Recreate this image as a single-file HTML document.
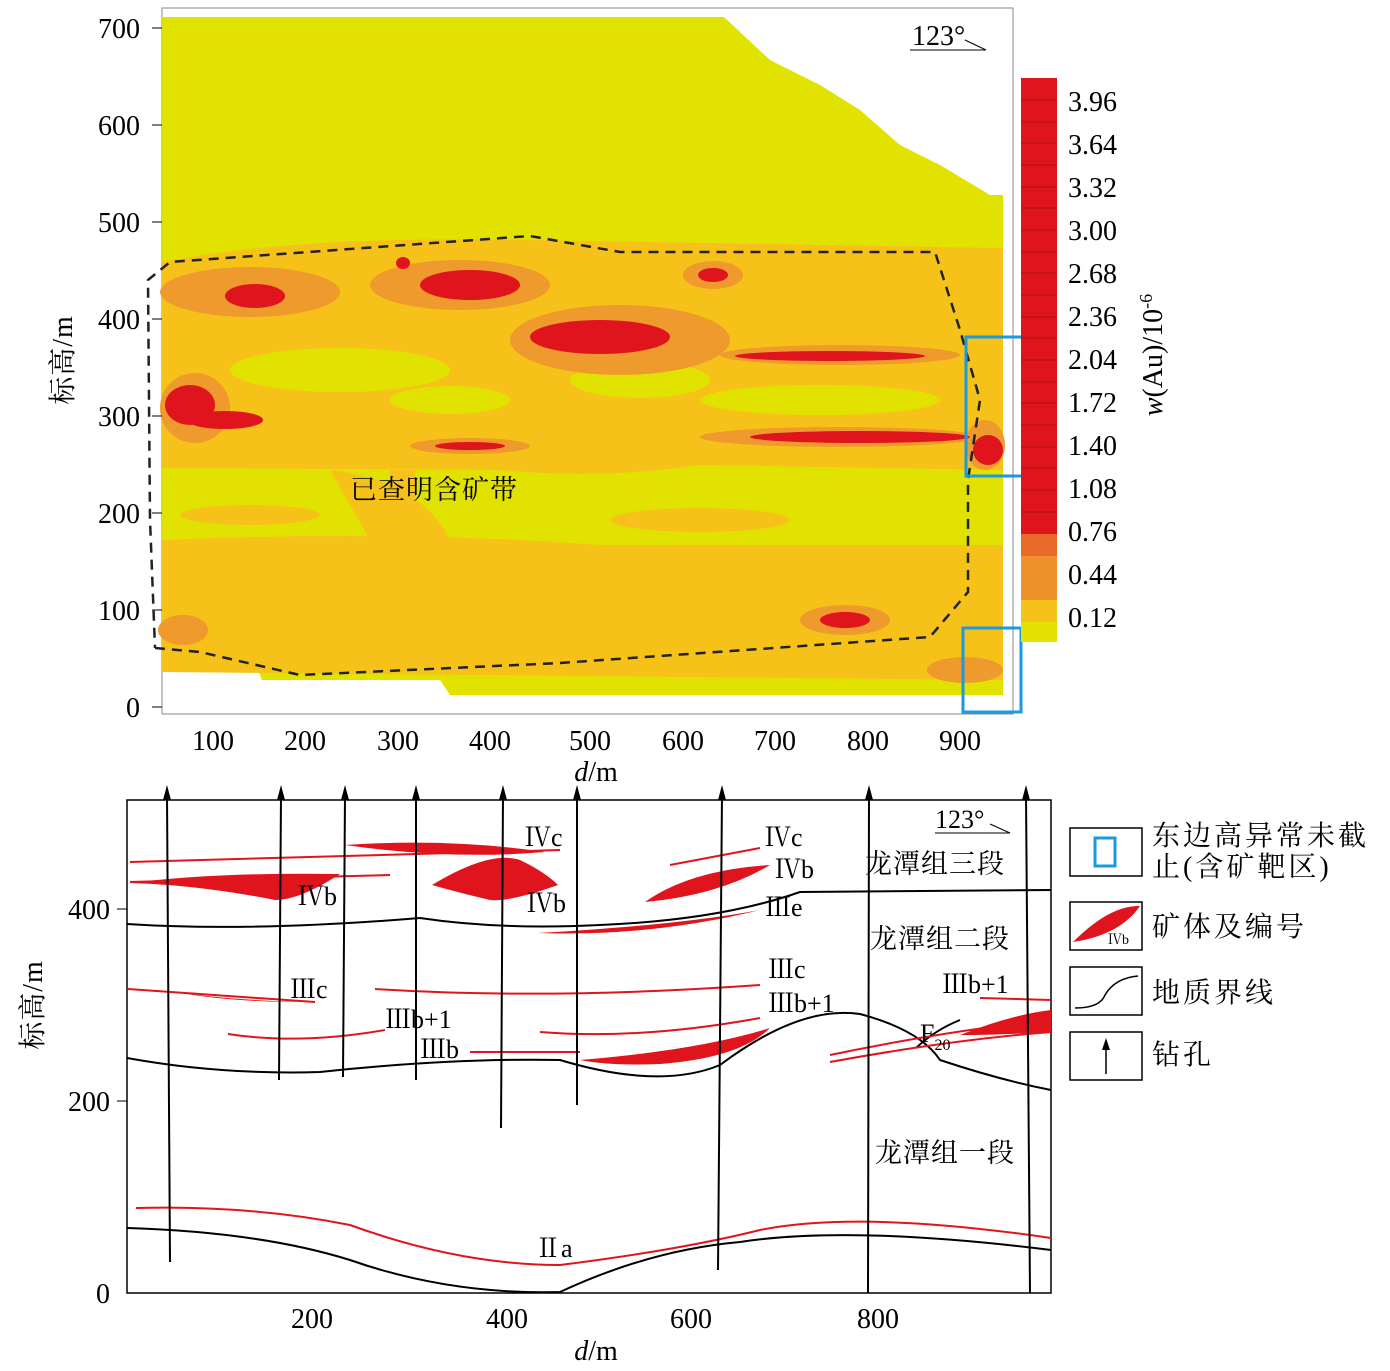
<!DOCTYPE html>
<html><head><meta charset="utf-8"><style>
body{margin:0;background:#fff}
svg text{font-family:"Liberation Serif","Noto Serif CJK SC",serif;fill:#000}
.c{font-family:"Liberation Serif","Noto Serif CJK SC",serif;letter-spacing:1px}
</style></head><body>
<svg width="1390" height="1366" viewBox="0 0 1390 1366" xmlns="http://www.w3.org/2000/svg">
<rect x="162" y="8" width="851" height="706" fill="#fff" stroke="#888" stroke-width="1"/>
<polygon points="162,17 724,17 770,60 820,85 860,110 900,145 940,165 990,195 1003,195 1003,695 450,695 440,680 262,680 258,670 162,670" fill="#e2e200"/>
<g fill="#f6c21a">
<path d="M162,262 Q300,235 530,240 L1003,248 L1003,470 L700,465 Q600,480 500,470 L162,468 Z"/>
<path d="M162,540 Q400,530 600,545 L1003,545 L1003,680 L162,672 Z"/>
<path d="M330,470 Q420,480 450,540 L370,540 Z"/>
<rect x="390" y="470" width="25" height="70"/>
<ellipse cx="700" cy="520" rx="90" ry="12"/>
<ellipse cx="250" cy="515" rx="70" ry="10"/>
</g>
<g fill="#e2e200">
<ellipse cx="340" cy="370" rx="110" ry="22"/>
<ellipse cx="640" cy="380" rx="70" ry="18"/>
<ellipse cx="450" cy="400" rx="60" ry="14"/>
<ellipse cx="820" cy="400" rx="120" ry="15"/>
</g>
<g fill="#ee9a2c">
<ellipse cx="250" cy="292" rx="90" ry="25"/>
<ellipse cx="460" cy="285" rx="90" ry="25"/>
<ellipse cx="620" cy="340" rx="110" ry="35"/>
<ellipse cx="840" cy="355" rx="120" ry="10"/>
<ellipse cx="840" cy="437" rx="140" ry="10"/>
<ellipse cx="195" cy="408" rx="35" ry="35"/>
<ellipse cx="470" cy="446" rx="60" ry="8"/>
<ellipse cx="845" cy="620" rx="45" ry="15"/>
<ellipse cx="183" cy="630" rx="25" ry="15"/>
<ellipse cx="965" cy="670" rx="38" ry="13"/>
<ellipse cx="713" cy="275" rx="30" ry="14"/>
<ellipse cx="985" cy="445" rx="20" ry="25"/>
</g>
<g fill="#e0141c">
<ellipse cx="255" cy="296" rx="30" ry="12"/>
<ellipse cx="470" cy="285" rx="50" ry="15"/>
<ellipse cx="600" cy="337" rx="70" ry="17"/>
<ellipse cx="830" cy="356" rx="95" ry="5"/>
<ellipse cx="860" cy="437" rx="110" ry="6"/>
<ellipse cx="190" cy="405" rx="25" ry="20"/>
<ellipse cx="225" cy="420" rx="38" ry="9"/>
<ellipse cx="470" cy="446" rx="35" ry="4"/>
<ellipse cx="845" cy="620" rx="25" ry="8"/>
<ellipse cx="713" cy="275" rx="15" ry="7"/>
<ellipse cx="403" cy="263" rx="7" ry="6"/>
<ellipse cx="988" cy="450" rx="15" ry="15"/>
</g>
<polyline points="155,648 200,652 300,675 560,663 930,637 968,592 968,480 980,400 960,330 935,252 620,252 530,236 170,262 148,280 150,520 155,648" fill="none" stroke="#222" stroke-width="2.5" stroke-dasharray="10,7"/>
<rect x="966" y="337" width="59" height="139" fill="none" stroke="#1a9ae0" stroke-width="3"/>
<rect x="963" y="628" width="58" height="84" fill="none" stroke="#1a9ae0" stroke-width="3"/>
<text x="350" y="499" font-size="27" class="c">已查明含矿带</text>
<text x="912" y="45" font-size="28">123°</text>
<polyline points="910,50 970,50 986,50" stroke="#000" fill="none"/>
<line x1="965" y1="40" x2="986" y2="50" stroke="#000"/>
<g font-size="28" text-anchor="end">
<text x="140" y="38">700</text><text x="140" y="135">600</text><text x="140" y="232">500</text><text x="140" y="329">400</text><text x="140" y="426">300</text><text x="140" y="523">200</text><text x="140" y="620">100</text><text x="140" y="717">0</text>
</g>
<g stroke="#000"><line x1="152" y1="28" x2="162" y2="28"/><line x1="152" y1="125" x2="162" y2="125"/><line x1="152" y1="222" x2="162" y2="222"/><line x1="152" y1="319" x2="162" y2="319"/><line x1="152" y1="416" x2="162" y2="416"/><line x1="152" y1="513" x2="162" y2="513"/><line x1="152" y1="610" x2="162" y2="610"/><line x1="152" y1="707" x2="162" y2="707"/></g>
<g font-size="28" text-anchor="middle">
<text x="213" y="750">100</text><text x="305" y="750">200</text><text x="398" y="750">300</text><text x="490" y="750">400</text><text x="590" y="750">500</text><text x="683" y="750">600</text><text x="775" y="750">700</text><text x="868" y="750">800</text><text x="960" y="750">900</text>
<text x="596" y="781"><tspan font-style="italic">d</tspan>/m</text>
</g>
<text transform="translate(72,360) rotate(-90)" font-size="28" text-anchor="middle" class="c">标高/m</text>
<rect x="1021" y="78" width="36" height="456" fill="#e0141c"/>
<rect x="1021" y="534" width="36" height="22" fill="#e86a2a"/>
<rect x="1021" y="556" width="36" height="44" fill="#ef922c"/>
<rect x="1021" y="600" width="36" height="22" fill="#f6c21a"/>
<rect x="1021" y="622" width="36" height="20" fill="#e2e200"/>
<g stroke="#a01010" stroke-width="0.8">
<line x1="1021" y1="100" x2="1057" y2="100"/><line x1="1021" y1="122" x2="1057" y2="122"/><line x1="1021" y1="143" x2="1057" y2="143"/><line x1="1021" y1="165" x2="1057" y2="165"/><line x1="1021" y1="187" x2="1057" y2="187"/><line x1="1021" y1="208" x2="1057" y2="208"/><line x1="1021" y1="230" x2="1057" y2="230"/><line x1="1021" y1="252" x2="1057" y2="252"/><line x1="1021" y1="273" x2="1057" y2="273"/><line x1="1021" y1="295" x2="1057" y2="295"/><line x1="1021" y1="317" x2="1057" y2="317"/><line x1="1021" y1="338" x2="1057" y2="338"/><line x1="1021" y1="360" x2="1057" y2="360"/><line x1="1021" y1="382" x2="1057" y2="382"/><line x1="1021" y1="403" x2="1057" y2="403"/><line x1="1021" y1="425" x2="1057" y2="425"/><line x1="1021" y1="447" x2="1057" y2="447"/><line x1="1021" y1="468" x2="1057" y2="468"/><line x1="1021" y1="490" x2="1057" y2="490"/><line x1="1021" y1="512" x2="1057" y2="512"/>
</g>
<g font-size="28">
<text x="1068" y="111">3.96</text><text x="1068" y="154">3.64</text><text x="1068" y="197">3.32</text><text x="1068" y="240">3.00</text><text x="1068" y="283">2.68</text><text x="1068" y="326">2.36</text><text x="1068" y="369">2.04</text><text x="1068" y="412">1.72</text><text x="1068" y="455">1.40</text><text x="1068" y="498">1.08</text><text x="1068" y="541">0.76</text><text x="1068" y="584">0.44</text><text x="1068" y="627">0.12</text>
</g>
<text transform="translate(1162,355) rotate(-90)" font-size="28" text-anchor="middle"><tspan font-style="italic">w</tspan>(Au)/10<tspan font-size="18" dy="-10">-6</tspan></text>

<rect x="127" y="800" width="924" height="493" fill="none" stroke="#000" stroke-width="1.5"/>
<g fill="none" stroke="#000" stroke-width="2">
<path d="M127,924 Q250,932 420,918 Q500,930 600,925 Q720,920 800,892 L1051,890"/>
<path d="M127,1058 Q220,1075 320,1072 Q450,1058 560,1060 Q660,1090 720,1065 Q800,1005 860,1014 Q920,1030 940,1060 Q1000,1080 1051,1090"/>
<path d="M127,1228 Q260,1232 350,1260 Q450,1295 560,1292 Q650,1250 740,1242 Q850,1225 1051,1250"/>
<path d="M916,1048 Q935,1030 960,1020"/>
</g>
<g fill="none" stroke="#e0141c" stroke-width="2">
<path d="M136,1208 Q250,1205 350,1225 Q460,1265 560,1265 Q680,1250 760,1230 Q860,1210 1051,1238"/>
<path d="M128,989 L315,1002"/><path d="M375,989 Q550,1000 760,985"/>
<path d="M228,1034 Q300,1045 385,1030"/><path d="M540,1032 Q640,1040 760,1018"/>
<path d="M470,1052 L580,1052"/>
<path d="M830,1055 Q950,1030 1051,1020"/><path d="M830,1062 Q950,1040 1051,1032"/>
<path d="M980,998 L1051,1000"/>
<path d="M670,865 L760,848"/><path d="M130,862 L560,850"/><path d="M130,882 L390,875"/>
</g>
<g fill="#e0141c">
<path d="M130,883 Q220,872 340,874 Q300,900 275,900 Q200,885 130,883 Z"/>
<path d="M345,845 Q450,838 545,852 Q450,860 345,845 Z"/>
<path d="M432,885 Q490,850 520,860 Q545,872 558,885 Q510,902 490,900 Q460,893 432,885 Z"/>
<path d="M645,902 Q690,870 770,865 Q720,895 645,902 Z"/>
<path d="M538,933 Q650,937 760,910 Q680,925 538,933 Z"/>
<path d="M175,992 Q230,1000 300,1002 Q230,1002 175,992 Z"/>
<path d="M580,1060 Q700,1050 770,1028 Q740,1058 660,1064 Q610,1066 580,1060 Z"/>
<path d="M960,1035 Q1010,1015 1051,1010 L1051,1032 Q1000,1035 960,1035 Z"/>
</g>
<g stroke="#000" stroke-width="2" fill="none">
<line x1="170" y1="1262" x2="167" y2="795"/><line x1="279" y1="1080" x2="281" y2="795"/><line x1="343" y1="1077" x2="345" y2="795"/><line x1="416" y1="1080" x2="416" y2="795"/><line x1="501" y1="1128" x2="503" y2="795"/><line x1="577" y1="1105" x2="577" y2="795"/><line x1="718" y1="1270" x2="722" y2="795"/><line x1="868" y1="1293" x2="869" y2="795"/><line x1="1030" y1="1293" x2="1026" y2="795"/>
</g>
<g fill="#000">
<polygon points="167,785 163,800 171,800"/><polygon points="281,785 277,800 285,800"/><polygon points="345,785 341,800 349,800"/><polygon points="416,785 412,800 420,800"/><polygon points="503,785 499,800 507,800"/><polygon points="577,785 573,800 581,800"/><polygon points="722,785 718,800 726,800"/><polygon points="869,785 865,800 873,800"/><polygon points="1026,785 1022,800 1030,800"/>
</g>
<g font-size="26">
<text x="525" y="846">Ⅳc</text><text x="765" y="846">Ⅳc</text><text x="775" y="878">Ⅳb</text><text x="298" y="905">Ⅳb</text><text x="527" y="912">Ⅳb</text><text x="765" y="916">Ⅲe</text>
<text x="290" y="998">Ⅲc</text><text x="768" y="978">Ⅲc</text><text x="768" y="1012">Ⅲb+1</text><text x="385" y="1028">Ⅲb+1</text><text x="420" y="1058">Ⅲb</text><text x="942" y="993">Ⅲb+1</text>
<text x="920" y="1042">F<tspan font-size="16" dy="8">20</tspan></text><text x="535" y="1257">Ⅱa</text>
<text x="935" y="828">123°</text>
</g>
<line x1="935" y1="833" x2="1010" y2="833" stroke="#000"/><line x1="990" y1="824" x2="1010" y2="833" stroke="#000"/>
<g font-size="27" class="c">
<text x="865" y="873">龙潭组三段</text><text x="870" y="948">龙潭组二段</text><text x="875" y="1162">龙潭组一段</text>
</g>
<g font-size="28" text-anchor="end"><text x="110" y="919">400</text><text x="110" y="1111">200</text><text x="110" y="1303">0</text></g>
<g stroke="#000"><line x1="117" y1="909" x2="127" y2="909"/><line x1="117" y1="1101" x2="127" y2="1101"/></g>
<g font-size="28" text-anchor="middle"><text x="312" y="1328">200</text><text x="507" y="1328">400</text><text x="691" y="1328">600</text><text x="878" y="1328">800</text>
<text x="596" y="1360"><tspan font-style="italic">d</tspan>/m</text></g>
<text transform="translate(42,1005) rotate(-90)" font-size="28" text-anchor="middle" class="c">标高/m</text>
<g stroke="#000" fill="none" stroke-width="1.5">
<rect x="1070" y="828" width="72" height="48"/><rect x="1070" y="902" width="72" height="48"/><rect x="1070" y="967" width="72" height="48"/><rect x="1070" y="1032" width="72" height="48"/>
<path d="M1075,1008 Q1100,1008 1105,995 Q1115,978 1138,976"/>
<line x1="1106" y1="1074" x2="1106" y2="1045"/>
</g>
<rect x="1095" y="838" width="20" height="28" fill="none" stroke="#1a9ae0" stroke-width="3"/>
<path d="M1073,942 Q1110,905 1140,906 Q1120,935 1073,942 Z" fill="#e0141c"/>
<text x="1108" y="944" font-size="14">Ⅳb</text>
<polygon points="1106,1038 1102,1050 1110,1050" fill="#000"/>
<g font-size="28" style="font-family:'Liberation Serif','Noto Serif CJK SC',serif;letter-spacing:3px">
<text x="1152" y="845">东边高异常未截</text><text x="1152" y="876">止(含矿靶区)</text>
<text x="1152" y="936">矿体及编号</text><text x="1152" y="1002">地质界线</text><text x="1152" y="1064">钻孔</text>
</g>
</svg>
</body></html>
